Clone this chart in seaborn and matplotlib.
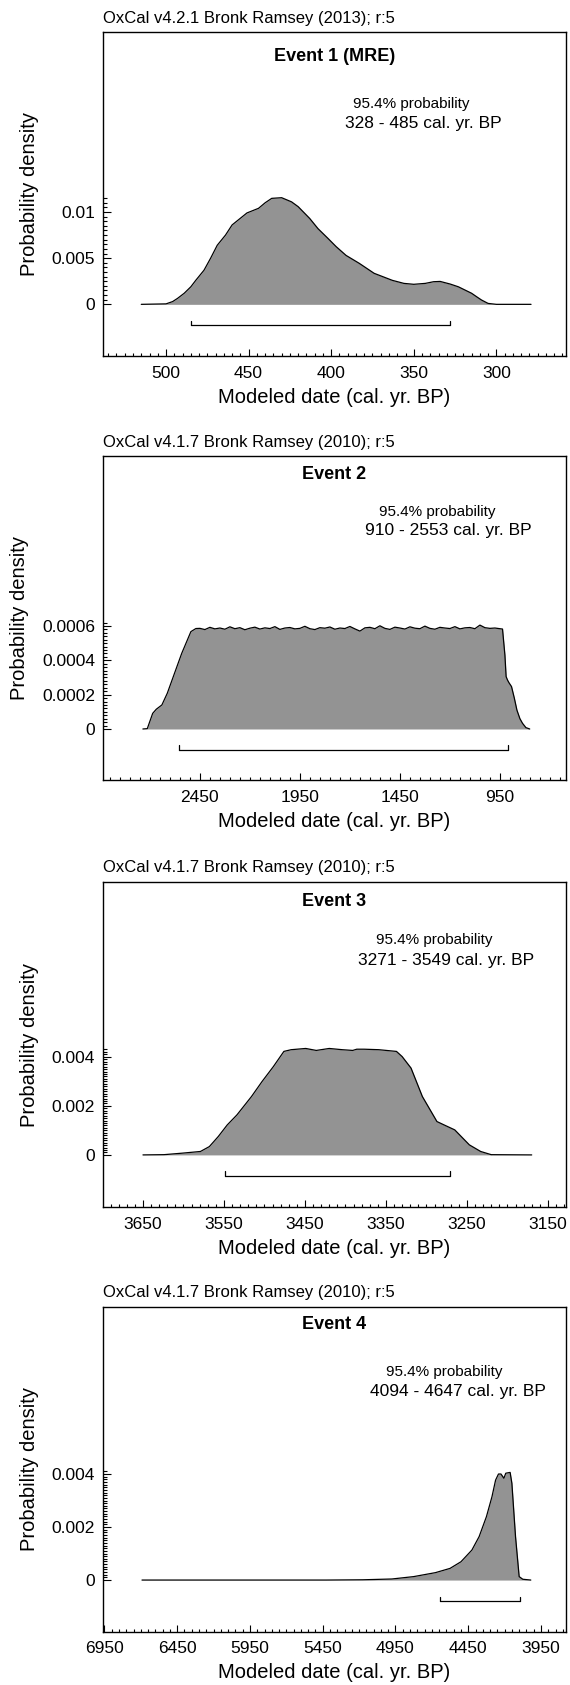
import numpy as np
import pandas as pd
import matplotlib
matplotlib.use("Agg")
import matplotlib.pyplot as plt
from matplotlib.ticker import FixedLocator, MultipleLocator
import seaborn as sns

sns.set_theme(style="white")
plt.rcParams['font.family'] = ['Liberation Sans', 'DejaVu Sans']
plt.rcParams.update({
    "axes.edgecolor": "black", "text.color": "black", "axes.labelcolor": "black",
    "xtick.color": "black", "ytick.color": "black",
})

# ---- data ----
headers = ["OxCal v4.2.1 Bronk Ramsey (2013); r:5",
           "OxCal v4.1.7 Bronk Ramsey (2010); r:5",
           "OxCal v4.1.7 Bronk Ramsey (2010); r:5",
           "OxCal v4.1.7 Bronk Ramsey (2010); r:5"]
titles = ["Event 1 (MRE)", "Event 2", "Event 3", "Event 4"]
range_lo = [328, 910, 3271, 4094]
range_hi = [485, 2553, 3549, 4647]

ev1_x = [515, 500, 496, 493, 489, 485, 482, 477, 473, 469, 464, 460, 451, 444, 440,
         436, 430, 424, 420, 413, 408, 402, 397, 391, 383, 374, 363, 356, 350, 343,
         338, 334, 328, 323, 319, 315, 312, 309, 305, 300, 279]
ev1_y = [0, 0.00005, 0.0003, 0.00065, 0.0012, 0.0019, 0.0026, 0.0037, 0.005, 0.0064,
         0.0075, 0.0086, 0.0099, 0.0104, 0.0110, 0.01148, 0.01155, 0.0111, 0.01058,
         0.0093, 0.0082, 0.00715, 0.00625, 0.0053, 0.00444, 0.00336, 0.0026, 0.00227,
         0.00217, 0.00227, 0.00245, 0.00248, 0.0022, 0.0019, 0.00155, 0.0012, 0.00083,
         0.00047, 0.0001, 0, 0]

ev2_x = [2735, 2713, 2686, 2668, 2640, 2613, 2577, 2541, 2495, 2470,
         2450, 2425, 2400, 2375, 2350, 2325, 2300, 2275, 2250, 2225, 2200, 2175,
         2150, 2125, 2100, 2075, 2050, 2025, 2000, 1975, 1950, 1925, 1900, 1875,
         1850, 1825, 1800, 1775, 1750, 1725, 1700, 1675, 1650, 1625, 1600, 1575,
         1550, 1525, 1500, 1475, 1450, 1425, 1400, 1375, 1350, 1325, 1300, 1275,
         1250, 1225, 1200, 1175, 1150, 1125, 1100, 1075, 1050, 1025, 1000, 975, 950,
         937, 925, 919, 912, 905, 892, 878, 865, 850, 837, 820, 801]
# density in units of 1e-6
ev2_y_micro = [0, 2, 91, 115, 140, 208, 324, 440, 567, 585,
               586, 579, 592, 583, 588, 581, 595, 584, 590, 578,
               587, 593, 582, 589, 585, 596, 580, 588, 591, 583,
               586, 598, 584, 579, 590, 587, 594, 581, 588, 585,
               597, 583, 570, 589, 592, 584, 601, 586, 580, 593,
               588, 582, 595, 587, 584, 599, 586, 581, 592, 588,
               585, 596, 583, 589, 591, 584, 605, 590, 586, 588, 584,
               582, 430, 305, 285, 270, 247, 180, 110, 60, 33, 8, 0]
ev2_y = [v * 1e-6 for v in ev2_y_micro]

ev3_x = [3650, 3624, 3602, 3579, 3568, 3557, 3546, 3534, 3516, 3503, 3489, 3476,
         3467, 3449, 3436, 3420, 3404, 3391, 3386, 3377, 3359, 3337, 3330, 3319,
         3305, 3287, 3278, 3265, 3247, 3233, 3220, 3170]
ev3_y = [0, 0.00001, 0.00007, 0.00014, 0.00034, 0.00075, 0.00122, 0.00163, 0.00238,
         0.00299, 0.0036, 0.00422, 0.00429, 0.00434, 0.00426, 0.00434, 0.00429,
         0.00426, 0.00431, 0.00431, 0.00429, 0.00422, 0.00401, 0.00354, 0.00238,
         0.00136, 0.00122, 0.00102, 0.00041, 0.00014, 0.00001, 0]

ev4_x = [6692, 5425, 5175, 4975, 4825, 4675, 4575, 4500, 4425, 4375, 4325, 4287,
         4262, 4242, 4225, 4205, 4192, 4162, 4150, 4125, 4100, 4075, 4020]
ev4_y = [0, 0, 0.00001, 0.00004, 0.00013, 0.00028, 0.00044, 0.00069, 0.00113,
         0.00164, 0.00239, 0.00314, 0.00377, 0.004, 0.004, 0.00384, 0.00403,
         0.00406, 0.00365, 0.00164, 0.00013, 0.00003, 0]

xticks = [[500, 450, 400, 350, 300],
          [2450, 1950, 1450, 950],
          [3650, 3550, 3450, 3350, 3250, 3150],
          [6950, 6450, 5950, 5450, 4950, 4450, 3950]]
yticks = [[0, 0.005, 0.01],
          [0, 0.0002, 0.0004, 0.0006],
          [0, 0.002, 0.004],
          [0, 0.002, 0.004]]
ytick_labels = [["0", "0.005", "0.01"],
                ["0", "0.0002", "0.0004", "0.0006"],
                ["0", "0.002", "0.004"],
                ["0", "0.002", "0.004"]]

# ---- layout ----
xlims = [(538, 258), (2933, 621), (3699, 3128), (6958, 3780)]
ylims = [(-0.0056, 0.02946), (-0.000297, 0.00159), (-0.002136, 0.01113), (-0.00195, 0.01031)]
x_minor = [5, 50, 10, 50]
y_minor = [0.0005, 0.00002, 0.0001, 0.0001]
y_minor_top = [0.0115, 0.00062, 0.0043, 0.0041]
ax_rects = [[0.1812, 0.7887, 0.8113, 0.1921],
            [0.1812, 0.5371, 0.8113, 0.1923],
            [0.1812, 0.2835, 0.8113, 0.1931],
            [0.1812, 0.0316, 0.8113, 0.1929]]
title_y = [0.924, 0.944, 0.941, 0.944]
prob_pos = [(0.665, 0.778), (0.723, 0.828), (0.716, 0.820), (0.738, 0.800)]
rng_pos = [(0.691, 0.717), (0.747, 0.769), (0.742, 0.759), (0.766, 0.738)]

FILL = "#939393"
DPI = 100
fig = plt.figure(figsize=(5.7, 16.85), dpi=DPI)

series = [(ev1_x, ev1_y), (ev2_x, ev2_y), (ev3_x, ev3_y), (ev4_x, ev4_y)]

for i, (xs, ys) in enumerate(series):
    ax = fig.add_axes(ax_rects[i])
    df = pd.DataFrame({"date": xs, "density": ys})

    ax.fill_between(df["date"], 0, df["density"], color=FILL, lw=0, zorder=1)
    sns.lineplot(data=df, x="date", y="density", ax=ax, color="black", lw=0.9,
                 sort=False, estimator=None, zorder=2)

    ax.set_xlim(*xlims[i])
    ax.set_ylim(*ylims[i])

    # 95.4% range bar, drawn a fixed pixel distance under the baseline
    ax_h_px = ax_rects[i][3] * fig.get_figheight() * DPI
    per_px = (ylims[i][1] - ylims[i][0]) / ax_h_px
    bar_y = -21 * per_px
    cap_y = bar_y + 4.5 * per_px
    ax.plot([range_hi[i], range_lo[i]], [bar_y, bar_y], color="black", lw=0.9)
    ax.plot([range_hi[i], range_hi[i]], [bar_y, cap_y], color="black", lw=0.9)
    ax.plot([range_lo[i], range_lo[i]], [bar_y, cap_y], color="black", lw=0.9)

    ax.set_xticks(xticks[i])
    ax.set_xticklabels([str(v) for v in xticks[i]])
    ax.xaxis.set_minor_locator(MultipleLocator(x_minor[i]))
    ax.set_yticks(yticks[i])
    ax.set_yticklabels(ytick_labels[i])
    ax.yaxis.set_minor_locator(FixedLocator(np.arange(0, y_minor_top[i] + 1e-12, y_minor[i])))

    ax.tick_params(which="both", direction="in", top=False, right=False,
                   bottom=True, left=True, width=0.8, labelsize=12.5)
    ax.tick_params(axis="x", which="major", length=4.8, pad=7)
    ax.tick_params(axis="x", which="minor", length=2.4)
    ax.tick_params(axis="y", which="major", length=5.5, pad=6)
    ax.tick_params(axis="y", which="minor", length=3.1)

    for sp in ax.spines.values():
        sp.set_color("black")
        sp.set_linewidth(1.0)

    ax.set_xlabel("Modeled date (cal. yr. BP)", fontsize=14.5, labelpad=5)
    ax.set_ylabel("Probability density", fontsize=14.5, labelpad=9)

    ax.text(0, 1.043, headers[i], transform=ax.transAxes, ha="left", va="center",
            fontsize=12)
    ax.text(0.5, title_y[i], titles[i], transform=ax.transAxes, ha="center",
            va="center", fontsize=13, fontweight="bold")
    ax.text(prob_pos[i][0], prob_pos[i][1], "95.4% probability", transform=ax.transAxes,
            ha="center", va="center", fontsize=11)
    ax.text(rng_pos[i][0], rng_pos[i][1],
            f"{range_lo[i]} - {range_hi[i]} cal. yr. BP", transform=ax.transAxes,
            ha="center", va="center", fontsize=12.5)

fig.savefig("out.png", dpi=DPI)
